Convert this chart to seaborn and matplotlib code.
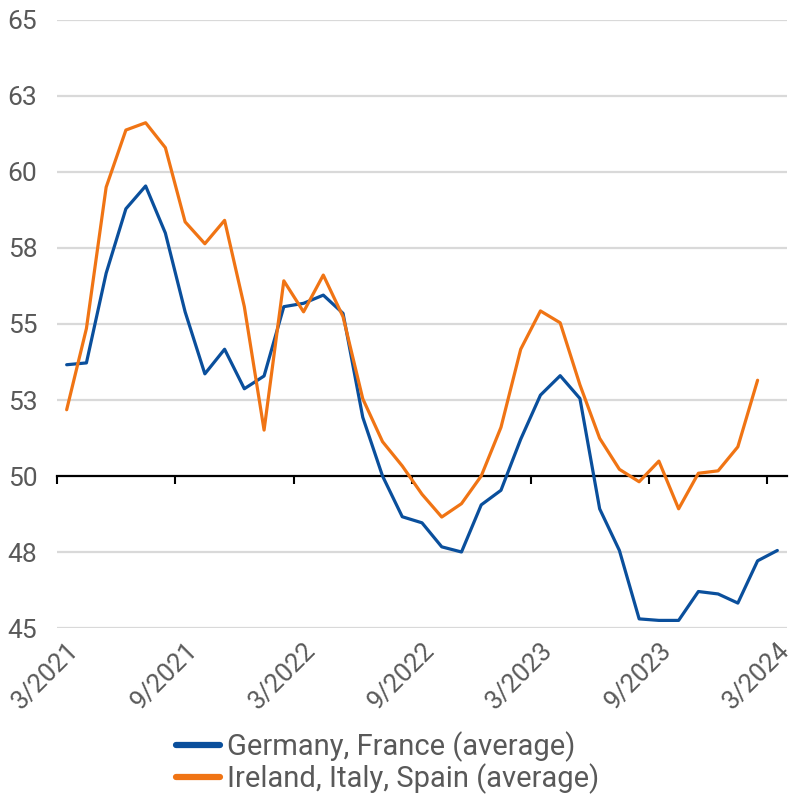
import numpy as np
import pandas as pd
import matplotlib
matplotlib.use('Agg')
import matplotlib.pyplot as plt
import seaborn as sns

# Datos (mensual, 3/2021 a 3/2024)
germany_france = [53.66, 53.72, 56.67, 58.79, 59.54, 57.99, 55.40, 53.36, 54.17, 52.87,
                  53.29, 55.57, 55.68, 55.95, 55.35, 51.93, 50.00, 48.66, 48.46, 47.67,
                  47.50, 49.05, 49.53, 51.21, 52.66, 53.30, 52.55, 48.92, 47.55, 45.30,
                  45.25, 45.25, 46.20, 46.12, 45.82, 47.21, 47.55]
ireland_italy_spain = [52.18, 54.85, 59.50, 61.38, 61.62, 60.80, 58.36, 57.64, 58.41, 55.57,
                       51.51, 56.42, 55.40, 56.61, 55.24, 52.54, 51.13, 50.33, 49.40, 48.65,
                       49.09, 50.00, 51.60, 54.17, 55.43, 55.04, 53.00, 51.24, 50.22, 49.81,
                       50.49, 48.92, 50.09, 50.17, 50.96, 53.15]

x_labels = ['3/2021', '9/2021', '3/2022', '9/2022', '3/2023', '9/2023', '3/2024']
y_ticks = [45, 47.5, 50, 52.5, 55, 57.5, 60, 62.5, 65]
y_labels = ['45', '48', '50', '53', '55', '58', '60', '63', '65']

serie_1 = 'Germany, France (average)'
serie_2 = 'Ireland, Italy, Spain (average)'

azul = '#0a4f9c'
naranja = '#f07414'
gris = '#595959'

sns.set_style('white')
plt.rcParams['font.family'] = ['Roboto', 'DejaVu Sans']

df1 = pd.DataFrame({'mes': np.arange(len(germany_france)), 'valor': germany_france})
df2 = pd.DataFrame({'mes': np.arange(len(ireland_italy_spain)), 'valor': ireland_italy_spain})

fig = plt.figure(figsize=(8, 8), dpi=100)
ax = fig.add_axes([0.071, 0.215, 0.913, 0.76])

# Líneas de cuadrícula (la de 50 es el eje)
for yv in y_ticks:
    if yv != 50:
        ax.axhline(yv, color='#d9d9d9', lw=1.6, zorder=0)

sns.lineplot(data=df1, x='mes', y='valor', ax=ax, color=azul, lw=2.3, label=serie_1)
sns.lineplot(data=df2, x='mes', y='valor', ax=ax, color=naranja, lw=2.3, label=serie_2)

ax.set_xlim(-0.5, 36.5)
ax.set_ylim(45, 65)
ax.set_xlabel('')
ax.set_ylabel('')

for s in ['top', 'right', 'left']:
    ax.spines[s].set_visible(False)
ax.spines['bottom'].set_position(('data', 50))
ax.spines['bottom'].set_color('black')
ax.spines['bottom'].set_linewidth(1.6)
ax.spines['bottom'].set_zorder(1)

ax.set_xticks(np.arange(-0.5, 37, 6))
ax.tick_params(axis='x', bottom=True, direction='out', length=6, width=1.5,
               color='black', labelbottom=False)

ax.set_yticks(y_ticks)
ax.set_yticklabels(y_labels)
ax.tick_params(axis='y', left=False, length=0, pad=14, labelsize=19, labelcolor=gris)

# Etiquetas de fecha debajo del área del gráfico
sec = ax.secondary_xaxis(location=0)
sec.set_xticks(np.arange(0, 37, 6))
sec.set_xticklabels(x_labels)
sec.spines['bottom'].set_visible(False)
sec.tick_params(axis='x', length=0, pad=7, labelsize=18.5, labelcolor=gris)
for lbl in sec.get_xticklabels():
    lbl.set_rotation(45)
    lbl.set_ha('right')
    lbl.set_va('top')
    lbl.set_rotation_mode('anchor')

leg = ax.legend(loc='upper center', bbox_to_anchor=(0.453, -0.15), frameon=False,
                fontsize=21, handlelength=1.5, handletextpad=0.25, labelspacing=0.05,
                borderaxespad=0)
for line in leg.get_lines():
    line.set_linewidth(4.5)
    line.set_solid_capstyle('round')
for t in leg.get_texts():
    t.set_color(gris)

plt.savefig('out.png', dpi=100)
